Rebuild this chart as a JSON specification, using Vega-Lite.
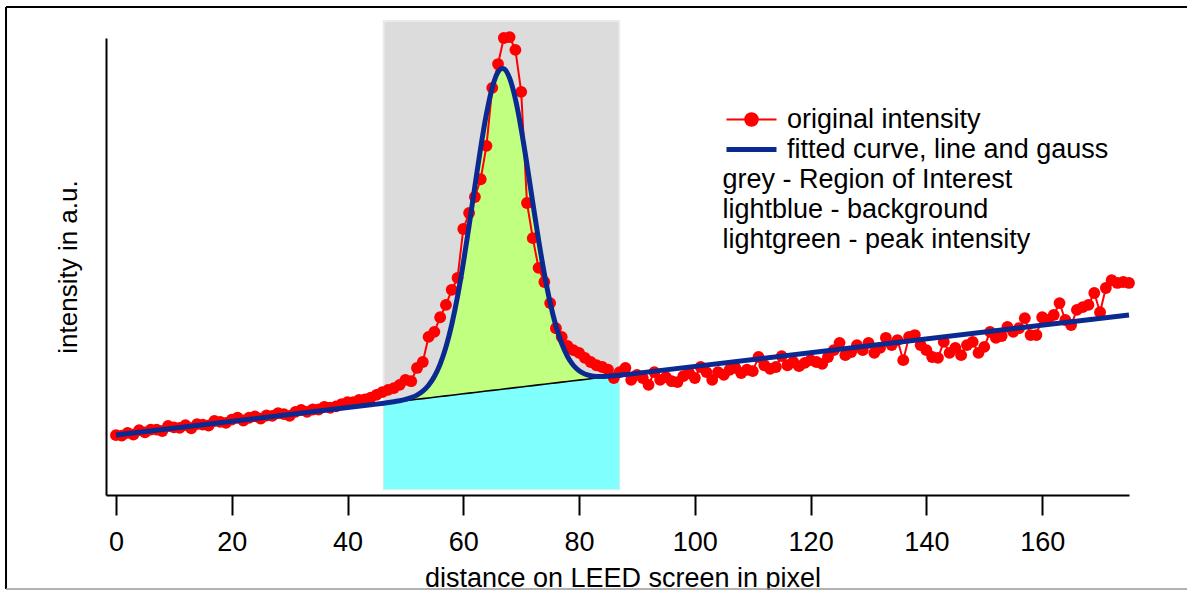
{
  "$schema": "https://vega.github.io/schema/vega-lite/v6.json",
  "width": 1023,
  "height": 457,
  "autosize": {"type": "none"},
  "padding": {"left": 106, "top": 38, "right": 58, "bottom": 95},
  "background": "white",
  "config": {"view": {"stroke": null}, "font": "Liberation Sans"},
  "datasets": {
    "obs": [
      {"x":0,"y":13.1},{"x":1,"y":13.0},{"x":2,"y":13.6},{"x":3,"y":13.2},{"x":4,"y":14.2},{"x":5,"y":13.7},{"x":6,"y":14.3},{"x":7,"y":14.3},{"x":8,"y":14.0},{"x":9,"y":15.1},
      {"x":10,"y":14.8},{"x":11,"y":14.7},{"x":12,"y":15.3},{"x":13,"y":14.6},{"x":14,"y":15.5},{"x":15,"y":15.4},{"x":16,"y":15.2},{"x":17,"y":16.2},{"x":18,"y":16.0},{"x":19,"y":15.8},
      {"x":20,"y":16.5},{"x":21,"y":16.9},{"x":22,"y":16.3},{"x":23,"y":16.9},{"x":24,"y":17.2},{"x":25,"y":16.7},{"x":26,"y":17.4},{"x":27,"y":17.3},{"x":28,"y":17.9},{"x":29,"y":17.7},
      {"x":30,"y":17.3},{"x":31,"y":18.2},{"x":32,"y":18.6},{"x":33,"y":18.2},{"x":34,"y":18.7},{"x":35,"y":18.7},{"x":36,"y":19.3},{"x":37,"y":19.1},{"x":38,"y":19.4},{"x":39,"y":19.9},
      {"x":40,"y":20.3},{"x":41,"y":20.3},{"x":42,"y":20.8},{"x":43,"y":20.9},{"x":44,"y":21.3},{"x":45,"y":21.9},{"x":46,"y":22.5},{"x":47,"y":23.0},{"x":48,"y":23.4},{"x":49,"y":24.1},
      {"x":50,"y":25.2},{"x":51,"y":24.9},{"x":52,"y":27.8},{"x":53,"y":29.1},{"x":54,"y":34.6},{"x":55,"y":35.7},{"x":56,"y":38.9},{"x":57,"y":41.6},{"x":58,"y":44.9},{"x":59,"y":47.5},
      {"x":60,"y":58.2},{"x":61,"y":61.7},{"x":62,"y":65.2},{"x":63,"y":69.1},{"x":64,"y":76.4},{"x":65,"y":89.1},{"x":66,"y":94.3},{"x":67,"y":100.0},{"x":68,"y":100.2},{"x":69,"y":97.4},
      {"x":70,"y":88.2},{"x":71,"y":63.9},{"x":72,"y":56.2},{"x":73,"y":49.7},{"x":74,"y":46.6},{"x":75,"y":42.0},{"x":76,"y":36.5},{"x":77,"y":34.6},{"x":78,"y":32.6},{"x":79,"y":31.7},
      {"x":80,"y":31.1},{"x":81,"y":30.0},{"x":82,"y":29.1},{"x":83,"y":28.4},{"x":84,"y":28.0},{"x":85,"y":27.4},{"x":86,"y":25.6},{"x":87,"y":26.9},{"x":88,"y":27.8},{"x":89,"y":25.2},
      {"x":90,"y":26.3},{"x":91,"y":25.6},{"x":92,"y":24.1},{"x":93,"y":26.9},{"x":94,"y":25.2},{"x":95,"y":25.8},{"x":96,"y":24.9},{"x":97,"y":24.7},{"x":98,"y":26.0},{"x":99,"y":26.7},
      {"x":100,"y":25.6},{"x":101,"y":28.0},{"x":102,"y":26.9},{"x":103,"y":25.2},{"x":104,"y":26.9},{"x":105,"y":26.3},{"x":106,"y":27.4},{"x":107,"y":27.8},{"x":108,"y":26.7},{"x":109,"y":27.4},
      {"x":110,"y":27.1},{"x":111,"y":30.2},{"x":112,"y":28.4},{"x":113,"y":27.6},{"x":114,"y":28.0},{"x":115,"y":30.4},{"x":116,"y":28.4},{"x":117,"y":29.1},{"x":118,"y":28.2},{"x":119,"y":28.9},
      {"x":120,"y":29.5},{"x":121,"y":29.1},{"x":122,"y":28.7},{"x":123,"y":30.2},{"x":124,"y":31.7},{"x":125,"y":33.3},{"x":126,"y":30.6},{"x":127,"y":31.3},{"x":128,"y":32.8},{"x":129,"y":31.7},
      {"x":130,"y":33.3},{"x":131,"y":31.1},{"x":132,"y":32.2},{"x":133,"y":34.4},{"x":134,"y":32.8},{"x":135,"y":33.9},{"x":136,"y":29.5},{"x":137,"y":34.6},{"x":138,"y":35.0},{"x":139,"y":32.8},
      {"x":140,"y":31.7},{"x":141,"y":30.2},{"x":142,"y":30.0},{"x":143,"y":33.5},{"x":144,"y":31.1},{"x":145,"y":32.2},{"x":146,"y":30.6},{"x":147,"y":32.8},{"x":148,"y":33.5},{"x":149,"y":31.1},
      {"x":150,"y":32.4},{"x":151,"y":35.7},{"x":152,"y":34.4},{"x":153,"y":34.8},{"x":154,"y":36.8},{"x":155,"y":35.7},{"x":156,"y":36.5},{"x":157,"y":38.7},{"x":158,"y":35.0},{"x":159,"y":35.0},
      {"x":160,"y":38.9},{"x":161,"y":38.3},{"x":162,"y":39.4},{"x":163,"y":42.0},{"x":164,"y":38.3},{"x":165,"y":37.2},{"x":166,"y":40.5},{"x":167,"y":41.1},{"x":168,"y":41.6},{"x":169,"y":44.2},
      {"x":170,"y":40.0},{"x":171,"y":45.3},{"x":172,"y":47.0},{"x":173,"y":46.4},{"x":174,"y":46.6},{"x":175,"y":46.4}
    ],
    "fit": [
      {"x":0,"y":13.13,"b":13.13},{"x":44,"y":19.73,"b":19.73},{"x":46.25,"y":20.09,"b":20.07},{"x":48,"y":20.4,"b":20.33},{"x":49,"y":20.61,"b":20.48},
      {"x":50,"y":20.91,"b":20.64},{"x":51,"y":21.3,"b":20.79},{"x":52,"y":21.87,"b":20.94},{"x":53,"y":22.73,"b":21.09},{"x":54,"y":24.03,"b":21.24},
      {"x":55,"y":25.93,"b":21.39},{"x":56,"y":28.65,"b":21.54},{"x":57,"y":32.38,"b":21.69},{"x":58,"y":37.29,"b":21.84},{"x":59,"y":43.43,"b":21.99},
      {"x":60,"y":50.74,"b":22.14},{"x":61,"y":58.94,"b":22.29},{"x":62,"y":67.56,"b":22.44},{"x":63,"y":75.98,"b":22.59},{"x":64,"y":83.41,"b":22.74},
      {"x":65,"y":89.15,"b":22.89},{"x":66,"y":92.55,"b":23.04},{"x":66.7,"y":93.34,"b":23.14},{"x":67,"y":93.26,"b":23.19},{"x":68,"y":91.21,"b":23.34},
      {"x":69,"y":86.64,"b":23.49},{"x":70,"y":80.1,"b":23.64},{"x":71,"y":72.29,"b":23.79},{"x":72,"y":63.97,"b":23.94},{"x":73,"y":55.83,"b":24.09},
      {"x":74,"y":48.42,"b":24.24},{"x":75,"y":42.09,"b":24.39},{"x":76,"y":36.99,"b":24.54},{"x":77,"y":33.1,"b":24.69},{"x":78,"y":30.3,"b":24.84},
      {"x":79,"y":28.4,"b":24.99},{"x":80,"y":27.18,"b":25.14},{"x":81,"y":26.47,"b":25.29},{"x":82,"y":26.09,"b":25.44},{"x":83,"y":25.94,"b":25.59},
      {"x":84,"y":25.92,"b":25.74},{"x":85,"y":25.98,"b":25.89},{"x":86,"y":26.08,"b":26.04},{"x":86.94,"y":26.19,"b":26.18},{"x":88,"y":26.34,"b":26.34},
      {"x":175,"y":39.4,"b":39.4}
    ],
    "roi": [{"x":46.25,"x2":86.94,"y":1.25,"y2":103.7}]
  },
  "layer": [
    {
      "encoding": {
        "x": {
          "field": "x", "type": "quantitative",
          "scale": {"domain": [-1.727, 175], "nice": false, "zero": false},
          "axis": {
            "values": [0,20,40,60,80,100,120,140,160],
            "title": "distance on LEED screen in pixel",
            "grid": false, "domainColor": "#000", "domainWidth": 2,
            "tickColor": "#000", "tickWidth": 2, "tickSize": 20,
            "labelFontSize": 27, "labelColor": "#000", "labelFont": "Liberation Sans",
            "labelBaseline": "alphabetic", "labelPadding": 35, "labelFlush": false, "labelOverlap": false,
            "titleFontSize": 27, "titleFontWeight": "normal", "titleColor": "#000", "titleFont": "Liberation Sans",
            "titleBaseline": "alphabetic", "titleX": 516.5, "titleY": 91.5
          }
        },
        "y": {
          "field": "y", "type": "quantitative",
          "scale": {"domain": [0, 100], "nice": false, "zero": false},
          "axis": {
            "title": "intensity in a.u.", "grid": false, "ticks": false, "labels": false,
            "domainColor": "#000", "domainWidth": 2,
            "titleFontSize": 26, "titleFontWeight": "normal", "titleColor": "#000", "titleFont": "Liberation Sans",
            "titleAngle": 270, "titleBaseline": "middle", "titleX": -38, "titleY": 228.5
          }
        }
      },
      "layer": [
        {
          "data": {"name": "roi"},
          "mark": {"type": "rect", "fill": "#dcdcdc", "stroke": "#ebebeb", "strokeWidth": 2},
          "encoding": {"x2": {"field": "x2"}, "y2": {"field": "y2"}}
        },
        {
          "data": {"name": "fit"},
          "transform": [{"filter": "datum.x >= 46.25 && datum.x <= 86.94"}],
          "mark": {"type": "area", "color": "#80ffff", "opacity": 1},
          "encoding": {"y": {"field": "b", "type": "quantitative"}, "y2": {"datum": 1.25}}
        },
        {
          "data": {"name": "fit"},
          "transform": [{"filter": "datum.x >= 46.25 && datum.x <= 86.94"}],
          "mark": {"type": "area", "color": "#c0ff80", "opacity": 1, "interpolate": "monotone"},
          "encoding": {"y2": {"field": "b"}}
        },
        {
          "data": {"name": "fit"},
          "transform": [{"filter": "datum.x >= 46.25 && datum.x <= 86.94"}],
          "mark": {"type": "line", "color": "#000", "strokeWidth": 1.6},
          "encoding": {"y": {"field": "b", "type": "quantitative"}}
        },
        {
          "data": {"name": "obs"},
          "mark": {"type": "line", "strokeWidth": 2},
          "encoding": {
            "color": {
              "datum": "original intensity", "type": "nominal",
              "scale": {
                "domain": ["original intensity", "fitted curve, line and gauss", "grey - Region of Interest", "lightblue - background", "lightgreen - peak intensity"],
                "range": ["#ff0000", "#0a2a91", "#dcdcdc", "#80ffff", "#c0ff80"]
              },
              "legend": {
                "orient": "none", "legendX": 632, "legendY": 68, "title": null, "padding": 0, "rowPadding": 2,
                "symbolSize": 784, "symbolStrokeWidth": 2, "labelFontSize": 27, "labelFont": "Liberation Sans",
                "labelColor": "#000", "labelOffset": 22, "labelLimit": 0,
                "encode": {
                  "symbols": {"update": {
                    "shape": {"signal": "datum.label === 'original intensity' ? 'M-1.786,0H1.786M-0.45,0A0.45,0.45,0,1,1,0.45,0A0.45,0.45,0,1,1,-0.45,0Z' : 'M-1.786,0H1.786'"},
                    "strokeWidth": {"signal": "datum.label === 'fitted curve, line and gauss' ? 5 : 2"},
                    "fill": {"signal": "datum.label === 'original intensity' ? '#ff0000' : 'transparent'"},
                    "opacity": {"signal": "indexof(['original intensity','fitted curve, line and gauss'], datum.label) >= 0 ? 1 : 0"}
                  }},
                  "labels": {"update": {
                    "dx": {"signal": "indexof(['original intensity','fitted curve, line and gauss'], datum.label) >= 0 ? 0 : -64.5"}
                  }}
                }
              }
            }
          }
        },
        {
          "data": {"name": "obs"},
          "mark": {"type": "circle", "color": "#ff0000", "size": 140, "opacity": 1}
        },
        {
          "data": {"name": "fit"},
          "mark": {"type": "line", "strokeWidth": 5, "interpolate": "monotone"},
          "encoding": {
            "color": {
              "datum": "fitted curve, line and gauss", "type": "nominal",
              "scale": {
                "domain": ["original intensity", "fitted curve, line and gauss", "grey - Region of Interest", "lightblue - background", "lightgreen - peak intensity"],
                "range": ["#ff0000", "#0a2a91", "#dcdcdc", "#80ffff", "#c0ff80"]
              }
            }
          }
        }
      ]
    },
    {
      "data": {"values": [{}]},
      "mark": {"type": "rule", "color": "#000", "strokeWidth": 2},
      "encoding": {
        "x": {"datum": -19.0, "type": "quantitative", "scale": {"domain": [-1.727, 175], "nice": false, "zero": false}},
        "y": {"datum": -20.57, "type": "quantitative", "scale": {"domain": [0, 100], "nice": false, "zero": false}},
        "y2": {"datum": 106.78}
      }
    },
    {
      "data": {"values": [{}]},
      "mark": {"type": "rule", "color": "#000", "strokeWidth": 2},
      "encoding": {
        "x": {"datum": -19.0, "type": "quantitative", "scale": {"domain": [-1.727, 175], "nice": false, "zero": false}},
        "x2": {"datum": 190},
        "y": {"datum": 106.78, "type": "quantitative", "scale": {"domain": [0, 100], "nice": false, "zero": false}}
      }
    },
    {
      "data": {"values": [{}]},
      "mark": {"type": "rule", "color": "#999999", "strokeWidth": 1.5},
      "encoding": {
        "x": {"datum": -19.0, "type": "quantitative", "scale": {"domain": [-1.727, 175], "nice": false, "zero": false}},
        "x2": {"datum": 190},
        "y": {"datum": -20.57, "type": "quantitative", "scale": {"domain": [0, 100], "nice": false, "zero": false}}
      }
    }
  ]
}
